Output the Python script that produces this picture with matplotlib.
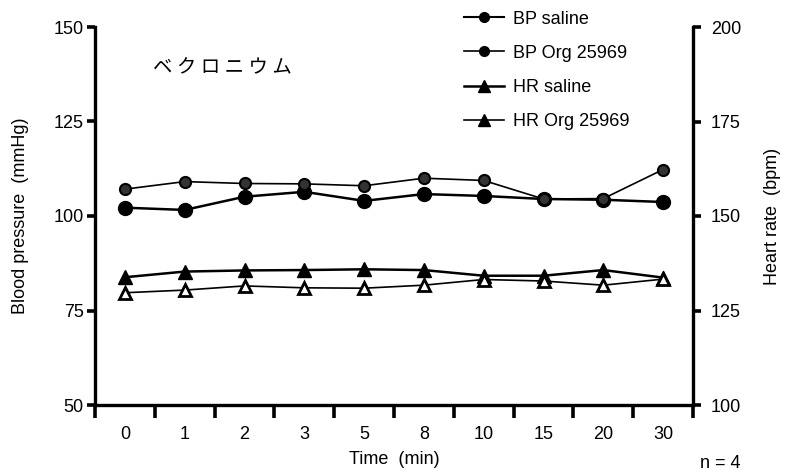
import matplotlib
matplotlib.use("Agg")
import matplotlib.pyplot as plt
from matplotlib.lines import Line2D

plt.rcParams['font.family'] = ['Liberation Sans', 'Noto Sans CJK JP', 'DejaVu Sans']

times = ["0", "1", "2", "3", "5", "8", "10", "15", "20", "30"]

# blood pressure (mmHg), left axis
bp_saline = [102.2, 101.6, 105.1, 106.4, 104.0, 105.8, 105.3, 104.5, 104.3, 103.7]
bp_org = [107.1, 109.1, 108.6, 108.5, 108.0, 110.0, 109.4, 104.5, 104.6, 112.3]

# heart rate (bpm), right axis
hr_saline = [133.8, 135.3, 135.6, 135.7, 135.9, 135.7, 134.2, 134.2, 135.7, 133.7]
hr_org = [129.7, 130.4, 131.5, 131.0, 130.9, 131.7, 133.2, 132.8, 131.7, 133.3]

x = list(range(len(times)))

fig = plt.figure(figsize=(7.86, 4.74), dpi=100)
ax = fig.add_axes([95/786, 1-405/474, (693-95)/786, (405-27)/474])
ax2 = ax.twinx()

ax.plot(x, bp_saline, color="black", lw=1.8, marker="o", ms=10, mfc="black", mec="black")
ax.plot(x, bp_org, color="black", lw=1.2, marker="o", ms=8, mfc="0.2", mec="black", mew=1.5)
ax2.plot(x, hr_saline, color="black", lw=1.8, marker="^", ms=10, mfc="black", mec="black")
ax2.plot(x, hr_org, color="black", lw=1.2, marker="^", ms=8, mfc="white", mec="black", mew=2)

ax.set_xlim(-0.5, 9.5)
ax.set_ylim(50, 150)
ax2.set_ylim(100, 200)

for a in (ax, ax2):
    for s in a.spines.values():
        s.set_linewidth(2.4)
    a.spines["top"].set_visible(False)
ax.spines["right"].set_visible(False)
ax2.spines["left"].set_visible(False)
ax2.spines["bottom"].set_visible(False)

# x ticks: marks between categories, labels on categories
ax.set_xticks([i - 0.5 for i in range(len(times) + 1)])
ax.set_xticklabels([])
ax.tick_params(axis="x", which="major", direction="out", length=9, width=2.6)
ax.set_xticks(x, minor=True)
ax.set_xticklabels(times, minor=True, fontsize=13)
ax.tick_params(axis="x", which="minor", length=0, pad=15)

ax.set_yticks([50, 75, 100, 125, 150])
ax.tick_params(axis="y", direction="out", length=6, width=2.6, labelsize=13, pad=2)
ax2.set_yticks([100, 125, 150, 175, 200])
ax2.tick_params(axis="y", direction="out", length=6, width=2.6, labelsize=13, pad=7)

ax.set_xlabel("Time  (min)", fontsize=13, labelpad=6)
ax.set_ylabel("Blood pressure  (mmHg)", fontsize=13, labelpad=18)
ax2.set_ylabel("Heart rate  (bpm)", fontsize=13, labelpad=16)

ax.text(0.097, 0.891, "ベ ク ロ ニ ウ ム", transform=ax.transAxes, fontsize=14,
        va="center", family=["Noto Sans CJK JP", "DejaVu Sans"])
fig.text(700/786, 1-463/474, "n = 4", fontsize=13, va="center")

handles = [
    Line2D([], [], color="black", lw=1.5, marker="o", ms=7),
    Line2D([], [], color="black", lw=1.2, marker="o", ms=7),
    Line2D([], [], color="black", lw=1.8, marker="^", ms=8),
    Line2D([], [], color="black", lw=1.2, marker="^", ms=8),
]
labels = ["BP saline", "BP Org 25969", "HR saline", "HR Org 25969"]
fig.legend(handles, labels, loc="upper left", bbox_to_anchor=(448/786, 1.012),
           frameon=False, fontsize=13, handlelength=2.2, handletextpad=0.5,
           labelspacing=0.95)

fig.savefig("out.png", dpi=100)
